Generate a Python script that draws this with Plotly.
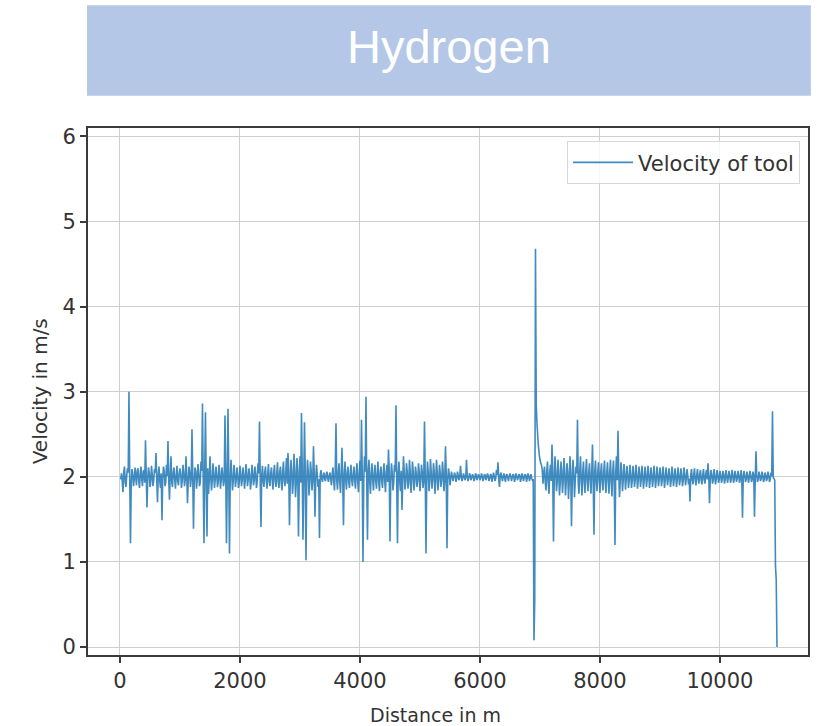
import plotly.graph_objects as go

# Tool velocity log: one reading every STEP_M metres, starting at STEP_M.
STEP_M = 12.5
velocity = [
    # 0 - 500 m
    1.97, 2.04, 1.95, 1.82, 2.06, 2.12, 1.93, 1.88, 2.02, 2.10, 2.05, 3.00, 1.98, 1.22, 1.94, 2.09, 2.03, 1.89, 1.96, 2.11,
    2.01, 1.90, 2.07, 2.10, 1.95, 1.87, 2.04, 2.12, 1.97, 1.89, 2.06, 2.08, 1.93, 2.43, 2.02, 1.64, 1.98, 2.11, 2.05, 1.88,
    # 500 - 1000 m
    1.94, 2.13, 2.03, 1.89, 1.96, 2.09, 2.05, 2.28, 1.97, 1.70, 2.02, 2.12, 1.95, 1.87, 2.04, 1.49, 1.98, 2.12, 2.06, 1.89,
    1.93, 2.14, 2.01, 2.42, 1.96, 1.73, 2.03, 2.24, 1.94, 1.88, 2.05, 2.11, 1.97, 1.86, 2.02, 2.13, 1.95, 1.90, 2.04, 2.10,
    # 1000 - 1500 m
    2.03, 1.87, 1.96, 2.14, 2.04, 1.89, 1.97, 2.24, 2.02, 1.69, 1.95, 2.12, 2.05, 1.88, 1.98, 2.56, 2.03, 1.39, 1.94, 2.11,
    2.06, 1.86, 1.97, 2.15, 2.04, 1.89, 1.93, 2.18, 2.07, 2.86, 1.95, 1.22, 2.08, 2.76, 1.92, 1.30, 2.10, 1.80, 1.95, 2.24,
    # 1500 - 2000 m
    2.02, 1.84, 1.95, 2.16, 2.04, 1.87, 1.97, 2.12, 2.03, 1.88, 1.94, 2.14, 2.05, 1.86, 1.96, 2.11, 2.02, 1.89, 1.95, 2.72,
    2.06, 1.22, 1.93, 2.80, 2.07, 1.10, 1.96, 2.20, 2.03, 1.84, 1.95, 2.14, 2.04, 1.88, 1.97, 2.11, 2.02, 1.87, 1.94, 2.13,
    # 2000 - 2500 m
    2.04, 1.89, 1.96, 2.11, 2.03, 1.86, 1.95, 2.15, 2.05, 1.89, 1.97, 2.10, 2.02, 1.85, 1.94, 2.14, 2.06, 1.90, 1.96, 2.12,
    2.03, 1.87, 1.95, 2.16, 2.04, 2.65, 1.97, 1.41, 2.02, 2.13, 1.95, 1.88, 2.05, 2.12, 1.96, 1.86, 2.03, 2.15, 1.94, 1.89,
    # 2500 - 3000 m
    2.04, 2.11, 1.96, 1.85, 2.05, 2.14, 1.95, 1.88, 2.03, 2.17, 1.94, 1.87, 2.06, 2.12, 1.93, 1.84, 2.07, 2.18, 1.95, 1.89,
    2.04, 2.22, 1.92, 2.28, 2.08, 1.43, 1.94, 2.20, 2.06, 1.80, 1.93, 2.27, 2.09, 1.76, 1.92, 2.22, 2.07, 1.30, 1.94, 2.24,
    # 3000 - 3500 m
    1.93, 2.75, 2.08, 1.26, 1.92, 2.64, 2.09, 1.02, 1.94, 2.20, 2.07, 1.78, 1.93, 2.18, 2.06, 1.84, 1.95, 2.36, 2.04, 1.53,
    1.96, 2.14, 2.03, 1.88, 1.97, 1.28, 2.02, 2.08, 1.98, 1.94, 2.02, 2.05, 1.97, 1.95, 2.03, 2.06, 1.98, 1.94, 2.02, 2.05,
    # 3500 - 4000 m
    1.97, 1.90, 2.04, 2.11, 1.95, 1.84, 2.05, 2.63, 1.96, 1.85, 2.04, 2.16, 1.94, 1.81, 2.06, 2.34, 1.95, 1.43, 2.03, 2.18,
    1.96, 1.85, 2.05, 2.12, 1.94, 1.87, 2.04, 2.14, 1.96, 1.89, 2.03, 2.12, 1.95, 1.86, 2.06, 2.16, 1.94, 1.82, 2.05, 2.19,
    # 4000 - 4500 m
    1.95, 2.67, 2.04, 1.00, 1.94, 2.24, 2.06, 2.94, 1.93, 1.26, 2.07, 2.20, 1.94, 1.80, 2.05, 2.16, 1.96, 1.84, 2.04, 2.14,
    1.95, 1.86, 2.05, 2.18, 1.94, 1.83, 2.06, 2.12, 1.95, 1.87, 2.04, 2.16, 1.96, 1.82, 2.05, 2.14, 1.94, 2.32, 2.06, 1.24,
    # 4500 - 5000 m
    1.95, 2.16, 2.05, 1.84, 1.94, 2.14, 2.06, 2.84, 1.93, 1.22, 2.04, 2.18, 1.95, 1.83, 2.07, 1.61, 1.96, 2.24, 2.05, 1.85,
    1.94, 2.16, 2.06, 1.86, 1.93, 2.20, 2.05, 1.81, 1.95, 2.18, 2.06, 1.84, 1.94, 2.12, 2.04, 1.88, 1.95, 2.16, 2.05, 1.83,
    # 5000 - 5500 m
    1.96, 2.14, 2.05, 1.87, 1.94, 2.65, 2.04, 1.10, 1.95, 2.18, 2.06, 1.83, 1.94, 2.21, 2.05, 1.86, 1.96, 2.16, 2.06, 1.80,
    1.94, 2.20, 2.05, 1.84, 1.95, 2.14, 2.04, 1.88, 1.96, 2.18, 2.05, 1.83, 1.95, 2.36, 2.04, 1.16, 1.97, 2.10, 2.03, 1.90,
    # 5500 - 6000 m
    1.98, 2.06, 2.01, 1.95, 1.99, 2.05, 2.02, 1.94, 1.98, 2.06, 2.01, 1.96, 1.99, 2.13, 2.02, 1.95, 1.98, 2.04, 2.01, 1.96,
    1.99, 2.20, 2.01, 1.95, 1.98, 2.04, 2.02, 1.96, 1.99, 2.03, 2.01, 1.95, 1.98, 2.04, 2.02, 1.96, 1.99, 2.03, 2.01, 1.96,
    # 6000 - 6500 m
    1.99, 2.04, 2.01, 1.95, 1.98, 2.03, 2.02, 1.96, 1.99, 2.04, 2.01, 1.95, 1.98, 2.03, 2.02, 1.94, 1.99, 2.05, 2.01, 1.95,
    1.98, 2.08, 2.02, 2.17, 1.97, 1.88, 2.02, 2.05, 1.99, 1.95, 2.01, 2.04, 1.98, 1.94, 2.02, 2.03, 1.99, 1.95, 2.01, 2.04,
    # 6500 - 7000 m
    2.01, 1.95, 1.99, 2.03, 2.02, 1.94, 1.98, 2.04, 2.01, 1.96, 1.99, 2.03, 2.02, 1.94, 1.98, 2.04, 2.01, 1.95, 1.99, 2.03,
    2.02, 1.94, 1.98, 2.04, 2.01, 1.95, 1.99, 2.03, 1.98, 1.96, 1.97, 0.08, 0.55, 4.68, 2.85, 2.63, 2.48, 2.35, 2.26, 2.20,
    # 7000 - 7500 m
    2.16, 2.14, 2.08, 1.92, 2.05, 2.12, 1.94, 1.84, 2.06, 2.18, 1.93, 1.80, 2.05, 2.14, 1.95, 2.38, 2.04, 1.24, 1.96, 2.24,
    2.07, 1.83, 1.94, 2.20, 2.06, 1.78, 1.93, 2.18, 2.07, 1.81, 1.95, 2.22, 2.05, 1.78, 1.94, 2.16, 2.06, 1.74, 1.93, 2.24,
    # 7500 - 8000 m
    2.05, 1.42, 1.94, 2.20, 2.06, 1.76, 1.95, 2.12, 2.04, 2.67, 1.93, 1.80, 2.06, 2.24, 1.95, 1.78, 2.05, 2.18, 1.94, 1.81,
    2.06, 2.21, 1.95, 1.83, 2.04, 2.16, 1.96, 1.80, 2.05, 2.38, 1.94, 1.32, 2.06, 2.19, 1.95, 1.83, 2.04, 2.17, 1.96, 1.81,
    # 8000 - 8500 m
    2.05, 2.16, 1.94, 1.84, 2.06, 2.19, 1.95, 1.81, 2.04, 2.17, 1.96, 1.80, 2.05, 2.20, 1.94, 1.77, 2.06, 2.19, 1.93, 1.20,
    2.05, 2.24, 1.96, 2.54, 2.04, 1.76, 1.95, 2.17, 2.05, 1.83, 1.96, 2.15, 2.04, 1.85, 1.97, 2.13, 2.03, 1.87, 1.96, 2.14,
    # 8500 - 9000 m
    2.03, 1.87, 1.96, 2.13, 2.04, 1.88, 1.97, 2.14, 2.03, 1.86, 1.96, 2.12, 2.04, 1.88, 1.97, 2.13, 2.02, 1.86, 1.96, 2.12,
    2.03, 1.88, 1.97, 2.13, 2.04, 1.87, 1.96, 2.11, 2.03, 1.88, 1.97, 2.13, 2.02, 1.87, 1.96, 2.12, 2.03, 1.89, 1.97, 2.11,
    # 9000 - 9500 m
    2.03, 1.89, 1.97, 2.12, 2.02, 1.87, 1.96, 2.11, 2.03, 1.90, 1.97, 2.10, 2.02, 1.88, 1.96, 2.12, 2.03, 1.89, 1.97, 2.10,
    2.02, 1.88, 1.96, 2.11, 2.03, 1.90, 1.97, 2.10, 2.02, 1.89, 1.96, 2.11, 2.03, 1.90, 1.97, 2.09, 2.02, 1.91, 1.98, 1.71,
    # 9500 - 10000 m
    2.02, 2.09, 1.97, 1.91, 2.03, 2.10, 1.96, 1.90, 2.02, 2.09, 1.97, 1.92, 2.03, 2.08, 1.96, 1.91, 2.02, 2.09, 1.97, 1.92,
    2.03, 2.08, 1.97, 2.16, 2.02, 1.69, 1.97, 2.08, 2.03, 1.92, 1.96, 2.09, 2.02, 1.91, 1.97, 2.08, 2.03, 1.93, 1.97, 2.07,
    # 10000 - 10500 m
    2.02, 1.93, 1.97, 2.07, 2.03, 1.92, 1.97, 2.08, 2.02, 1.93, 1.98, 2.07, 2.02, 1.93, 1.97, 2.08, 2.03, 1.93, 1.97, 2.07,
    2.02, 1.94, 1.98, 2.07, 2.02, 1.93, 1.97, 2.08, 2.02, 1.52, 1.98, 2.07, 2.02, 1.94, 1.97, 2.06, 2.02, 1.93, 1.98, 2.07,
    # 10500 - 10950 m
    2.02, 1.94, 1.97, 2.06, 2.02, 1.53, 1.98, 2.30, 2.02, 1.94, 1.97, 2.06, 2.02, 1.95, 1.98, 2.06, 2.02, 1.94, 1.97, 2.05,
    2.02, 1.95, 1.98, 2.06, 2.02, 1.94, 1.97, 2.05, 2.01, 2.77, 1.99, 1.98, 1.96, 0.95, 0.79, 0.00,
]
distance = [STEP_M * (i + 1) for i in range(len(velocity))]

x_ticks = [0, 2000, 4000, 6000, 8000, 10000]
x_tick_labels = ["0", "2000", "4000", "6000", "8000", "10000"]
y_ticks = [0, 1, 2, 3, 4, 5, 6]

LINE_BLUE = "#1f77b4"
SPINE = "#3a3a3a"
GRID = "#cfcfcf"
TEXT = "#333333"
FONT = "DejaVu Sans"

fig = go.Figure()
fig.add_trace(go.Scatter(
    x=distance, y=velocity, mode="lines", name="Velocity of tool",
    line=dict(color=LINE_BLUE, width=1.6, simplify=False), opacity=0.85,
))

axis_common = dict(
    showline=True, linecolor=SPINE, linewidth=2, mirror=True,
    showgrid=True, gridcolor=GRID, gridwidth=1.3,
    ticks="outside", ticklen=6, tickwidth=1.5, tickcolor=SPINE,
    tickfont=dict(family=FONT, size=21, color=TEXT),
    zeroline=False,
)
fig.update_xaxes(range=[-533, 11467], tickvals=x_ticks, ticktext=x_tick_labels, **axis_common)
fig.update_yaxes(range=[-0.094, 6.099], tickvals=y_ticks, **axis_common)

fig.update_layout(
    width=823, height=726,
    margin=dict(l=88, r=15, t=128, b=71),
    paper_bgcolor="white", plot_bgcolor="white",
    font=dict(family=FONT, color=TEXT),
    showlegend=True,
    legend=dict(
        x=0.989, y=0.975, xanchor="right", yanchor="top",
        bgcolor="rgba(255,255,255,0.8)", bordercolor="#d8d8d8", borderwidth=1,
        itemwidth=60,
        font=dict(family=FONT, size=21, color=TEXT),
    ),
    shapes=[
        # title banner
        dict(type="rect", xref="paper", yref="paper",
             x0=-0.0014, x1=1.004, y0=1.061, y1=1.233,
             fillcolor="#B4C7E7", line=dict(width=0), layer="below"),
    ],
    annotations=[
        dict(text="Hydrogen", xref="paper", yref="paper", x=0.501, y=1.154,
             xanchor="center", yanchor="middle", showarrow=False,
             font=dict(family="Liberation Sans", size=47, color="white")),
        dict(text="Distance in m", xref="paper", yref="paper", x=0.483, y=-0.114,
             xanchor="center", yanchor="middle", showarrow=False,
             font=dict(family=FONT, size=19, color=TEXT)),
        dict(text="Velocity in m/s", xref="paper", yref="paper", x=-0.067, y=0.5,
             xanchor="center", yanchor="middle", showarrow=False, textangle=-90,
             font=dict(family=FONT, size=20, color=TEXT)),
    ],
)

fig.write_html("out.html")
